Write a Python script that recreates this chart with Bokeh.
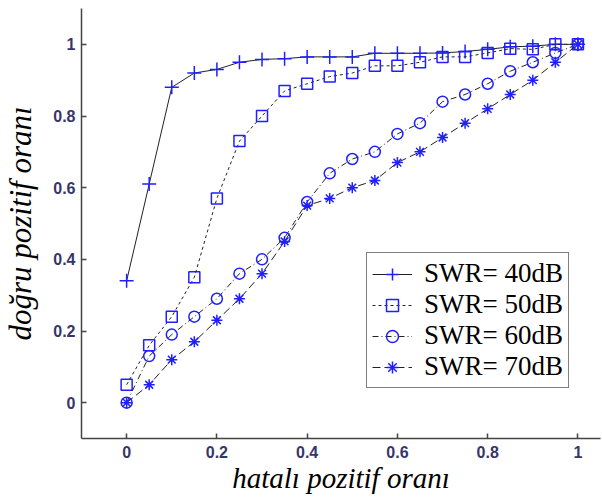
from bokeh.plotting import figure
from bokeh.models import Range1d, FixedTicker, Legend, LegendItem
from bokeh.embed import file_html
from bokeh.resources import INLINE

fpr = [0.0, 0.05, 0.10, 0.15, 0.20, 0.25, 0.30, 0.35, 0.40, 0.45, 0.50,
       0.55, 0.60, 0.65, 0.70, 0.75, 0.80, 0.85, 0.90, 0.95, 1.0]
tpr_40 = [0.34, 0.61, 0.88, 0.92, 0.93, 0.95, 0.958, 0.96, 0.965, 0.965, 0.965,
          0.975, 0.975, 0.975, 0.976, 0.98, 0.986, 0.993, 0.995, 1.0, 1.0]
tpr_50 = [0.05, 0.16, 0.24, 0.35, 0.57, 0.73, 0.80, 0.87, 0.89, 0.91, 0.92,
          0.94, 0.94, 0.95, 0.965, 0.965, 0.976, 0.988, 0.986, 1.0, 1.0]
tpr_60 = [0.0, 0.13, 0.19, 0.24, 0.29, 0.36, 0.40, 0.46, 0.56, 0.64, 0.68,
          0.70, 0.75, 0.78, 0.84, 0.86, 0.89, 0.925, 0.95, 0.976, 1.0]
tpr_70 = [0.0, 0.05, 0.12, 0.17, 0.23, 0.29, 0.36, 0.45, 0.55, 0.57, 0.60,
          0.62, 0.67, 0.70, 0.74, 0.78, 0.82, 0.86, 0.90, 0.95, 1.0]
labels = ["SWR= 40dB", "SWR= 50dB", "SWR= 60dB", "SWR= 70dB"]
tick_vals = [0, 0.2, 0.4, 0.6, 0.8, 1.0]
tick_text = ["0", "0.2", "0.4", "0.6", "0.8", "1"]

p = figure(width=602, height=498, output_backend="svg", toolbar_location=None,
           x_range=Range1d(-0.1, 1.05), y_range=Range1d(-0.1, 1.1),
           min_border_left=78, min_border_right=2, min_border_top=8, min_border_bottom=60)
p.outline_line_color = None
p.xgrid.visible = False
p.ygrid.visible = False
p.background_fill_color = "white"
p.border_fill_color = "white"

for ax in (p.xaxis[0], p.yaxis[0]):
    ax.ticker = FixedTicker(ticks=tick_vals)
    ax.major_label_overrides = {v: t for v, t in zip(tick_vals, tick_text)}
    ax.major_label_text_font = "Liberation Sans"
    ax.major_label_text_font_style = "bold"
    ax.major_label_text_font_size = "16px"
    ax.major_label_text_color = "#36366a"
    ax.axis_line_color = "#444444"
    ax.axis_line_width = 1.5
    ax.major_tick_line_color = "#444444"
    ax.major_tick_line_width = 1.5
    ax.major_tick_in = 5
    ax.major_tick_out = 0
    ax.minor_tick_line_color = None
    ax.axis_label_text_font = "Liberation Serif"
    ax.axis_label_text_font_style = "italic"
    ax.axis_label_text_color = "black"

p.xaxis[0].axis_label = "hatalı pozitif oranı"
p.yaxis[0].axis_label = "doğru pozitif oranı"
p.xaxis[0].axis_label_text_font_size = "29px"
p.yaxis[0].axis_label_text_font_size = "31px"
p.xaxis[0].major_label_standoff = 7
p.yaxis[0].major_label_standoff = 6
p.xaxis[0].axis_label_standoff = 1
p.yaxis[0].axis_label_standoff = 12

blue = "#1f1fff"
line_col = "#222222"
series = [
    (tpr_40, "solid", "cross", 14),
    (tpr_50, "3 3", "square", 11),
    (tpr_60, "6 3 1 3", "circle", 11),
    (tpr_70, "8 4", "asterisk", 11),
]
items = []
for (ys, dash, marker, size), lab in zip(series, labels):
    lr = p.line(fpr, ys, line_color=line_col, line_width=1, line_dash=dash)
    sr = p.scatter(fpr, ys, marker=marker, size=size, line_color=blue,
                   fill_color=None, line_width=1.5)
    items.append(LegendItem(label=lab, renderers=[lr, sr]))

legend = Legend(items=items, location=(285, 50))
legend.label_text_font = "Liberation Serif"
legend.label_text_font_size = "27px"
legend.label_text_color = "black"
legend.glyph_width = 40
legend.glyph_height = 30
legend.label_height = 30
legend.label_standoff = 12
legend.spacing = 0
legend.padding = 5
legend.margin = 0
legend.border_line_color = "black"
legend.border_line_width = 1.5
legend.background_fill_color = "white"
legend.background_fill_alpha = 1.0
p.add_layout(legend, "center")

open("out.html", "w").write(file_html(p, INLINE))
